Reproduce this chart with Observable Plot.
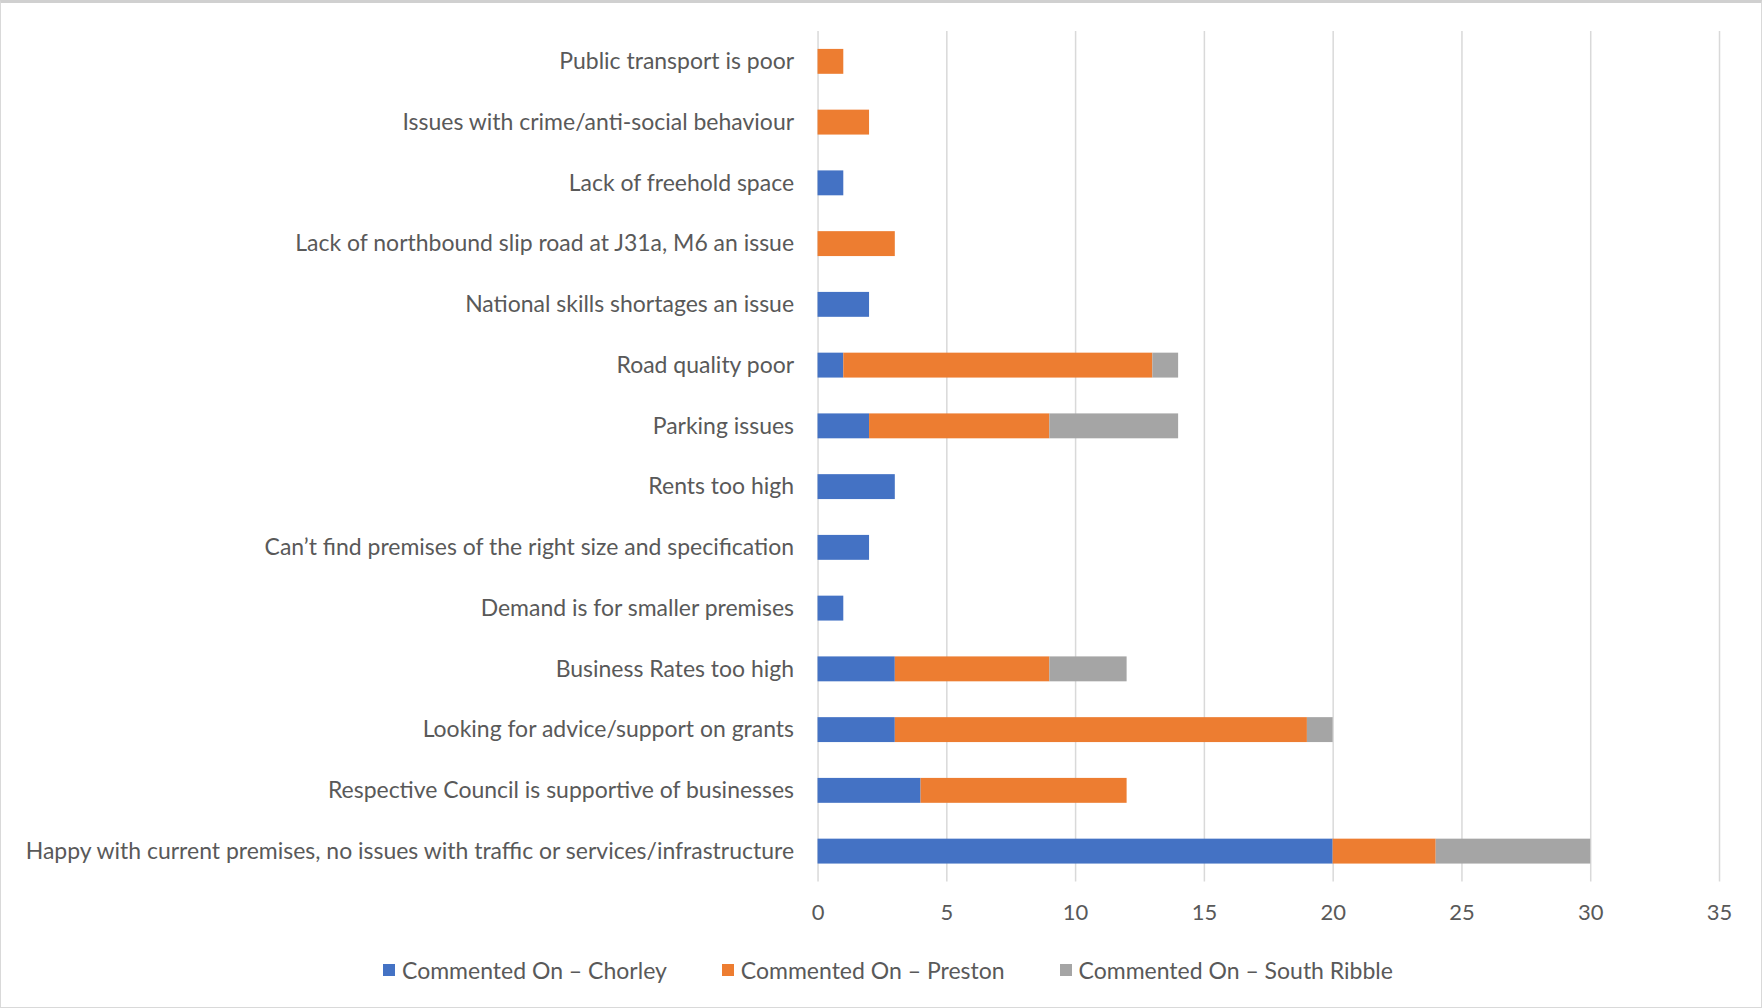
<!DOCTYPE html>
<html>
<head>
<meta charset="utf-8">
<script src="https://cdn.jsdelivr.net/npm/d3@7"></script>
<script src="https://cdn.jsdelivr.net/npm/@observablehq/plot@0.6"></script>
<style>
  html, body { margin: 0; padding: 0; background: #fff; }
  #frame { position: relative; width: 1760px; height: 1004px; border: 1px solid #d9d9d9; border-top: 3px solid #d0d0d0; overflow: hidden; font-family: Lato, "Open Sans", sans-serif; }
  #chart { position: absolute; left: -1px; top: -3px; }
  #legend { position: absolute; top: 953px; left: 6px; width: 1762px; display: flex; justify-content: center; gap: 55px; font-size: 23px; color: #595959; }
  #legend .item { display: flex; align-items: center; }
  #legend .sw { width: 12px; height: 12px; margin-right: 7px; display: inline-block; }
</style>
</head>
<body>
<div id="frame">
  <div id="chart"></div>
  <div id="legend"></div>
</div>
<script>
const categories = [
  "Public transport is poor",
  "Issues with crime/anti-social behaviour",
  "Lack of freehold space",
  "Lack of northbound slip road at J31a, M6 an issue",
  "National skills shortages an issue",
  "Road quality poor",
  "Parking issues",
  "Rents too high",
  "Can’t find premises of the right size and specification",
  "Demand is for smaller premises",
  "Business Rates too high",
  "Looking for advice/support on grants",
  "Respective Council is supportive of businesses",
  "Happy with current premises, no issues with traffic or services/infrastructure"
];
const seriesNames = ["Commented On – Chorley", "Commented On – Preston", "Commented On – South Ribble"];
const chorley     = [0, 0, 1, 0, 2, 1, 2, 3, 2, 1, 3, 3, 4, 20];
const preston     = [1, 2, 0, 3, 0, 12, 7, 0, 0, 0, 6, 16, 8, 4];
const southRibble = [0, 0, 0, 0, 0, 1, 5, 0, 0, 0, 3, 1, 0, 6];
const xTicks = [0, 5, 10, 15, 20, 25, 30, 35];
const colors = ["#4472C4", "#ED7D31", "#A5A5A5"];

const seriesValues = [chorley, preston, southRibble];
const rows = [];
seriesNames.forEach((s, si) => {
  categories.forEach((c, ci) => {
    rows.push({category: c, series: s, value: seriesValues[si][ci]});
  });
});

const W = 1762, H = 940;
const chart = Plot.plot({
  width: W,
  height: H,
  marginLeft: 818,
  marginRight: 42,
  marginTop: 31,
  marginBottom: H - 882,
  style: { fontFamily: "Lato, 'Open Sans', sans-serif", fontSize: "23px", color: "#595959", background: "transparent" },
  x: { domain: [0, 35], ticks: xTicks, label: null },
  y: { domain: categories, label: null, paddingInner: 0.59, paddingOuter: 0.295, round: false },
  color: { domain: seriesNames, range: colors },
  marks: [
    Plot.gridX(xTicks, { stroke: "#d9d9d9", strokeOpacity: 1, strokeWidth: 1.5 }),
    Plot.barX(rows, Plot.stackX({ x: "value", y: "category", fill: "series", order: seriesNames })),
    Plot.axisX({ ticks: xTicks, tickSize: 0, tickPadding: 22, label: null, fill: "#595959", fontSize: 22 }),
    Plot.axisY({ tickSize: 0, tickPadding: 24, label: null, fill: "#595959", fontSize: 23 })
  ]
});
document.getElementById("chart").appendChild(chart);

const legend = document.getElementById("legend");
seriesNames.forEach((s, i) => {
  const item = document.createElement("div");
  item.className = "item";
  const sw = document.createElement("span");
  sw.className = "sw";
  sw.style.background = colors[i];
  const t = document.createElement("span");
  t.textContent = s;
  item.appendChild(sw);
  item.appendChild(t);
  legend.appendChild(item);
});
</script>
</body>
</html>
